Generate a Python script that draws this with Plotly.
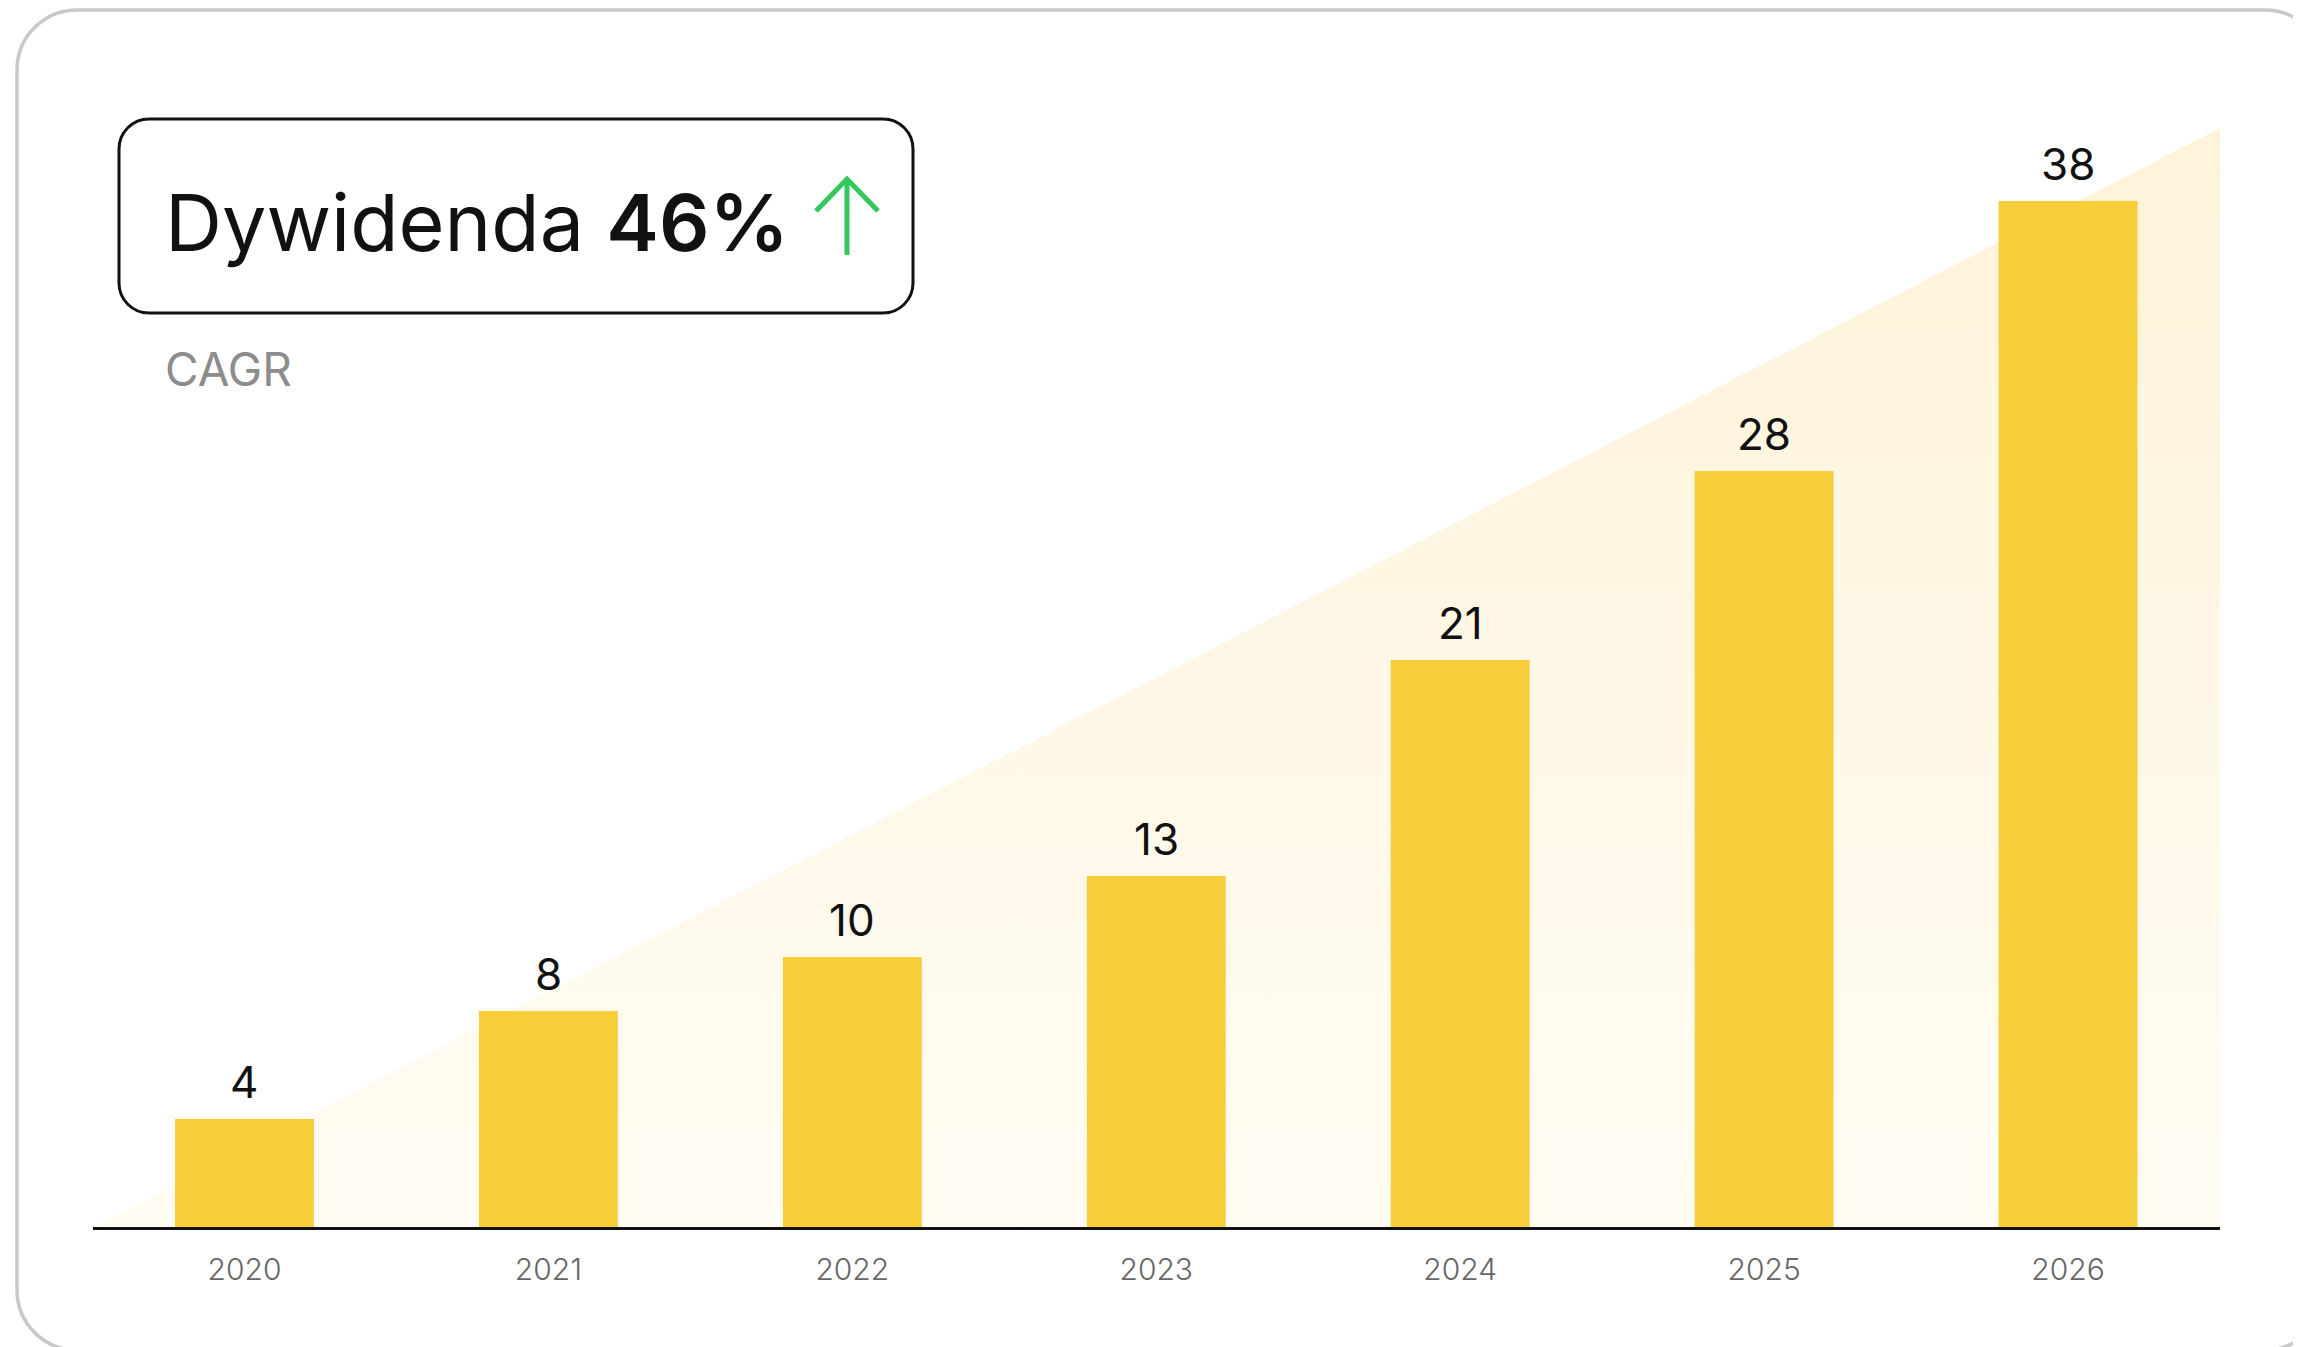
import plotly.graph_objects as go

# data
years = ["2020", "2021", "2022", "2023", "2024", "2025", "2026"]
dividend = [4, 8, 10, 13, 21, 28, 38]
bar_labels = ["4", "8", "10", "13", "21", "28", "38"]
# decorative trend wedge behind the bars (x in category positions, y in data units)
trend_x = [-0.5, 6.5, 6.5]
trend_y = [0, 40.7, 0]
title_name = "Dywidenda"
title_value = "46%"
subtitle = "CAGR"

W, H = 2301, 1347
OFF = 8  # page body margin
FONT = "Inter"


def fx(px):
    return (px - OFF) / W


def fy(py):
    return 1 - (py - OFF) / H


def pt(x, y):
    return f"{fx(x):.5f},{fy(y):.5f}"


def rounded_rect(x0, y0, x1, y1, r):
    k = 0.5523 * r
    return (
        f"M {pt(x0 + r, y0)} L {pt(x1 - r, y0)} "
        f"C {pt(x1 - r + k, y0)} {pt(x1, y0 + r - k)} {pt(x1, y0 + r)} "
        f"L {pt(x1, y1 - r)} "
        f"C {pt(x1, y1 - r + k)} {pt(x1 - r + k, y1)} {pt(x1 - r, y1)} "
        f"L {pt(x0 + r, y1)} "
        f"C {pt(x0 + r - k, y1)} {pt(x0, y1 - r + k)} {pt(x0, y1 - r)} "
        f"L {pt(x0, y0 + r)} "
        f"C {pt(x0, y0 + r - k)} {pt(x0 + r - k, y0)} {pt(x0 + r, y0)} Z"
    )


xpos = list(range(len(years)))
x_dom = [fx(92.5), fx(2220)]
y_dom = [fy(1227), fy(100)]
y_rng = [0, 1127 / 27]

fig = go.Figure()

# wedge on the base axes
fig.add_trace(
    go.Scatter(
        x=trend_x,
        y=trend_y,
        mode="lines",
        fill="toself",
        line=dict(width=0),
        fillgradient=dict(
            type="vertical",
            colorscale=[[0, "#FFFCF4"], [1, "#FEF3D8"]],
        ),
        hoverinfo="skip",
    )
)

# bars on an overlaid pair of axes so they sit above the wedge
fig.add_trace(
    go.Bar(
        x=xpos,
        y=dividend,
        width=0.457,
        marker=dict(color="#F7CD3A", line=dict(width=0)),
        hoverinfo="skip",
        xaxis="x2",
        yaxis="y2",
    )
)

annotations = []
for x, v, lab in zip(xpos, dividend, bar_labels):
    annotations.append(
        dict(
            x=x, y=v, xref="x2", yref="y2", text=lab, showarrow=False,
            yanchor="bottom", yshift=8,
            font=dict(family=FONT, size=44, color="#111111"),
        )
    )

annotations.append(
    dict(
        x=fx(163), y=fy(222), xref="paper", yref="paper",
        text=f"{title_name} <span style='font-weight:600'>{title_value}</span>",
        showarrow=False,
        xanchor="left", yanchor="middle",
        font=dict(family=FONT, size=79, color="#111111"),
    )
)
annotations.append(
    dict(
        x=fx(163), y=fy(369), xref="paper", yref="paper",
        text=subtitle, showarrow=False,
        xanchor="left", yanchor="middle",
        font=dict(family=FONT, size=46, color="#8C8C8C"),
    )
)

shapes = [
    dict(
        type="path", xref="paper", yref="paper",
        path=rounded_rect(17, 10, 2325, 1350, 60),
        line=dict(color="#C8C8C8", width=3.5), layer="below",
    ),
    dict(
        type="path", xref="paper", yref="paper",
        path=rounded_rect(119, 119, 913, 313, 30),
        line=dict(color="#111111", width=3),
    ),
    dict(
        type="path", xref="paper", yref="paper",
        path=f"M {pt(847, 255)} L {pt(847, 179)} M {pt(816, 211)} L {pt(847, 179)} L {pt(878, 211)}",
        line=dict(color="#34C759", width=5),
    ),
]

fig.update_layout(
    width=W,
    height=H,
    margin=dict(l=0, r=0, t=0, b=0),
    paper_bgcolor="white",
    plot_bgcolor="rgba(0,0,0,0)",
    showlegend=False,
    annotations=annotations,
    shapes=shapes,
    xaxis=dict(
        domain=x_dom,
        range=[-0.5, 6.5],
        tickvals=xpos,
        ticktext=years,
        showline=True,
        linecolor="#111111",
        linewidth=2.5,
        showgrid=False,
        zeroline=False,
        ticks="",
        ticklabelstandoff=14,
        tickfont=dict(family=FONT, size=30, color="#666666", weight=300),
        fixedrange=True,
    ),
    yaxis=dict(domain=y_dom, range=y_rng, visible=False, fixedrange=True),
    xaxis2=dict(
        overlaying="x", range=[-0.5, 6.5], visible=False, fixedrange=True,
    ),
    yaxis2=dict(
        overlaying="y", range=y_rng, visible=False, fixedrange=True,
    ),
)

fig.write_html("out.html")
